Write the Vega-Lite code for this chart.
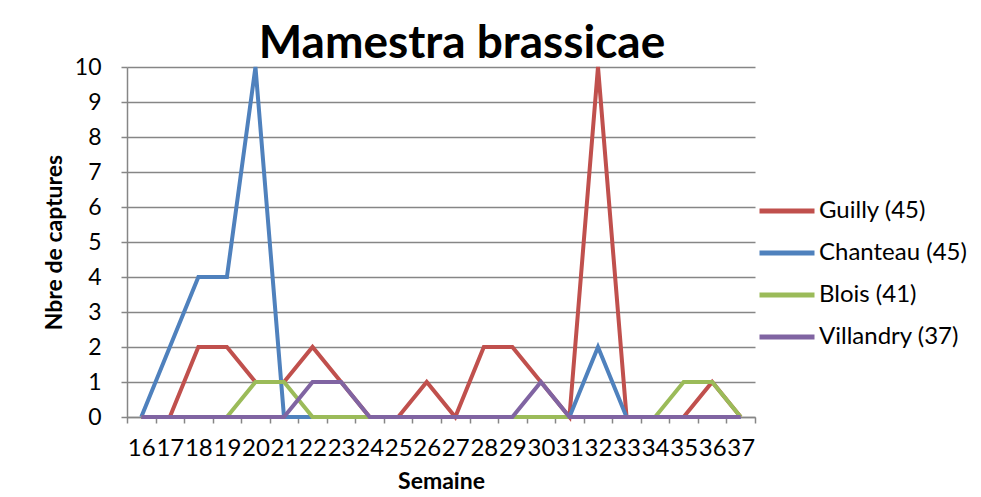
{
  "$schema": "https://vega.github.io/schema/vega-lite/v6.json",
  "width": 628,
  "height": 350,
  "autosize": {"type": "none"},
  "padding": {"left": 127, "top": 67, "right": 226, "bottom": 80},
  "background": "white",
  "title": {
    "text": "Mamestra brassicae",
    "font": "Lato",
    "fontSize": 46,
    "fontWeight": "bold",
    "color": "#000000",
    "anchor": "middle",
    "baseline": "alphabetic",
    "offset": 8,
    "dx": 21,
    "dy": 56
  },
  "datasets": {
    "d": [
      {"semaine": 16, "site": "Guilly (45)", "n": 0},
      {"semaine": 17, "site": "Guilly (45)", "n": 0},
      {"semaine": 18, "site": "Guilly (45)", "n": 2},
      {"semaine": 19, "site": "Guilly (45)", "n": 2},
      {"semaine": 20, "site": "Guilly (45)", "n": 1},
      {"semaine": 21, "site": "Guilly (45)", "n": 1},
      {"semaine": 22, "site": "Guilly (45)", "n": 2},
      {"semaine": 23, "site": "Guilly (45)", "n": 1},
      {"semaine": 24, "site": "Guilly (45)", "n": 0},
      {"semaine": 25, "site": "Guilly (45)", "n": 0},
      {"semaine": 26, "site": "Guilly (45)", "n": 1},
      {"semaine": 27, "site": "Guilly (45)", "n": 0},
      {"semaine": 28, "site": "Guilly (45)", "n": 2},
      {"semaine": 29, "site": "Guilly (45)", "n": 2},
      {"semaine": 30, "site": "Guilly (45)", "n": 1},
      {"semaine": 31, "site": "Guilly (45)", "n": 0},
      {"semaine": 32, "site": "Guilly (45)", "n": 10},
      {"semaine": 33, "site": "Guilly (45)", "n": 0},
      {"semaine": 34, "site": "Guilly (45)", "n": 0},
      {"semaine": 35, "site": "Guilly (45)", "n": 0},
      {"semaine": 36, "site": "Guilly (45)", "n": 1},
      {"semaine": 37, "site": "Guilly (45)", "n": 0},
      {"semaine": 16, "site": "Chanteau (45)", "n": 0},
      {"semaine": 17, "site": "Chanteau (45)", "n": 2},
      {"semaine": 18, "site": "Chanteau (45)", "n": 4},
      {"semaine": 19, "site": "Chanteau (45)", "n": 4},
      {"semaine": 20, "site": "Chanteau (45)", "n": 10},
      {"semaine": 21, "site": "Chanteau (45)", "n": 0},
      {"semaine": 22, "site": "Chanteau (45)", "n": 0},
      {"semaine": 23, "site": "Chanteau (45)", "n": 0},
      {"semaine": 24, "site": "Chanteau (45)", "n": 0},
      {"semaine": 25, "site": "Chanteau (45)", "n": 0},
      {"semaine": 26, "site": "Chanteau (45)", "n": 0},
      {"semaine": 27, "site": "Chanteau (45)", "n": 0},
      {"semaine": 28, "site": "Chanteau (45)", "n": 0},
      {"semaine": 29, "site": "Chanteau (45)", "n": 0},
      {"semaine": 30, "site": "Chanteau (45)", "n": 0},
      {"semaine": 31, "site": "Chanteau (45)", "n": 0},
      {"semaine": 32, "site": "Chanteau (45)", "n": 2},
      {"semaine": 33, "site": "Chanteau (45)", "n": 0},
      {"semaine": 34, "site": "Chanteau (45)", "n": 0},
      {"semaine": 35, "site": "Chanteau (45)", "n": 0},
      {"semaine": 36, "site": "Chanteau (45)", "n": 0},
      {"semaine": 37, "site": "Chanteau (45)", "n": 0},
      {"semaine": 16, "site": "Blois (41)", "n": 0},
      {"semaine": 17, "site": "Blois (41)", "n": 0},
      {"semaine": 18, "site": "Blois (41)", "n": 0},
      {"semaine": 19, "site": "Blois (41)", "n": 0},
      {"semaine": 20, "site": "Blois (41)", "n": 1},
      {"semaine": 21, "site": "Blois (41)", "n": 1},
      {"semaine": 22, "site": "Blois (41)", "n": 0},
      {"semaine": 23, "site": "Blois (41)", "n": 0},
      {"semaine": 24, "site": "Blois (41)", "n": 0},
      {"semaine": 25, "site": "Blois (41)", "n": 0},
      {"semaine": 26, "site": "Blois (41)", "n": 0},
      {"semaine": 27, "site": "Blois (41)", "n": 0},
      {"semaine": 28, "site": "Blois (41)", "n": 0},
      {"semaine": 29, "site": "Blois (41)", "n": 0},
      {"semaine": 30, "site": "Blois (41)", "n": 0},
      {"semaine": 31, "site": "Blois (41)", "n": 0},
      {"semaine": 32, "site": "Blois (41)", "n": 0},
      {"semaine": 33, "site": "Blois (41)", "n": 0},
      {"semaine": 34, "site": "Blois (41)", "n": 0},
      {"semaine": 35, "site": "Blois (41)", "n": 1},
      {"semaine": 36, "site": "Blois (41)", "n": 1},
      {"semaine": 37, "site": "Blois (41)", "n": 0},
      {"semaine": 16, "site": "Villandry (37)", "n": 0},
      {"semaine": 17, "site": "Villandry (37)", "n": 0},
      {"semaine": 18, "site": "Villandry (37)", "n": 0},
      {"semaine": 19, "site": "Villandry (37)", "n": 0},
      {"semaine": 20, "site": "Villandry (37)", "n": 0},
      {"semaine": 21, "site": "Villandry (37)", "n": 0},
      {"semaine": 22, "site": "Villandry (37)", "n": 1},
      {"semaine": 23, "site": "Villandry (37)", "n": 1},
      {"semaine": 24, "site": "Villandry (37)", "n": 0},
      {"semaine": 25, "site": "Villandry (37)", "n": 0},
      {"semaine": 26, "site": "Villandry (37)", "n": 0},
      {"semaine": 27, "site": "Villandry (37)", "n": 0},
      {"semaine": 28, "site": "Villandry (37)", "n": 0},
      {"semaine": 29, "site": "Villandry (37)", "n": 0},
      {"semaine": 30, "site": "Villandry (37)", "n": 1},
      {"semaine": 31, "site": "Villandry (37)", "n": 0},
      {"semaine": 32, "site": "Villandry (37)", "n": 0},
      {"semaine": 33, "site": "Villandry (37)", "n": 0},
      {"semaine": 34, "site": "Villandry (37)", "n": 0},
      {"semaine": 35, "site": "Villandry (37)", "n": 0},
      {"semaine": 36, "site": "Villandry (37)", "n": 0},
      {"semaine": 37, "site": "Villandry (37)", "n": 0}
    ]
  },
  "data": {"name": "d"},
  "mark": {"type": "line", "strokeWidth": 4, "strokeJoin": "miter", "strokeCap": "butt"},
  "encoding": {
    "x": {
      "field": "semaine",
      "type": "ordinal",
      "scale": {"type": "band", "paddingInner": 0, "paddingOuter": 0},
      "axis": {
        "title": "Semaine",
        "labelAngle": 0,
        "tickBand": "extent",
        "grid": false,
        "domainColor": "#868686",
        "domainWidth": 1.5,
        "tickColor": "#868686",
        "tickWidth": 1.5,
        "tickSize": 6,
        "labelFont": "Lato",
        "labelFontSize": 24,
        "labelColor": "#000000",
        "labelPadding": 13,
        "titleFont": "Lato",
        "titleFontSize": 23,
        "titleFontWeight": "bold",
        "titleColor": "#000000",
        "titlePadding": 10
      }
    },
    "y": {
      "field": "n",
      "type": "quantitative",
      "scale": {"domain": [0, 10], "nice": false},
      "axis": {
        "title": "Nbre de captures",
        "values": [0, 1, 2, 3, 4, 5, 6, 7, 8, 9, 10],
        "grid": true,
        "gridColor": "#868686",
        "gridWidth": 1.5,
        "domainColor": "#868686",
        "domainWidth": 1.5,
        "tickColor": "#868686",
        "tickWidth": 1.5,
        "tickSize": 6,
        "labelFont": "Lato",
        "labelFontSize": 23,
        "labelColor": "#000000",
        "labelPadding": 20,
        "titleFont": "Lato",
        "titleFontSize": 23,
        "titleFontWeight": "bold",
        "titleColor": "#000000",
        "titlePadding": 8
      }
    },
    "color": {
      "field": "site",
      "type": "nominal",
      "sort": ["Guilly (45)", "Chanteau (45)", "Blois (41)", "Villandry (37)"],
      "scale": {
        "domain": ["Guilly (45)", "Chanteau (45)", "Blois (41)", "Villandry (37)"],
        "range": ["#C0504D", "#4F81BD", "#9BBB59", "#8064A2"]
      },
      "legend": {
        "title": null,
        "orient": "none",
        "legendX": 630,
        "legendY": 114,
        "symbolType": "stroke",
        "symbolSize": 3025,
        "symbolStrokeWidth": 5,
        "labelFont": "Lato",
        "labelFontSize": 24,
        "labelColor": "#000000",
        "labelOffset": 2,
        "rowPadding": -5
      }
    },
    "order": {"field": "semaine"}
  },
  "config": {"view": {"stroke": null}}
}
